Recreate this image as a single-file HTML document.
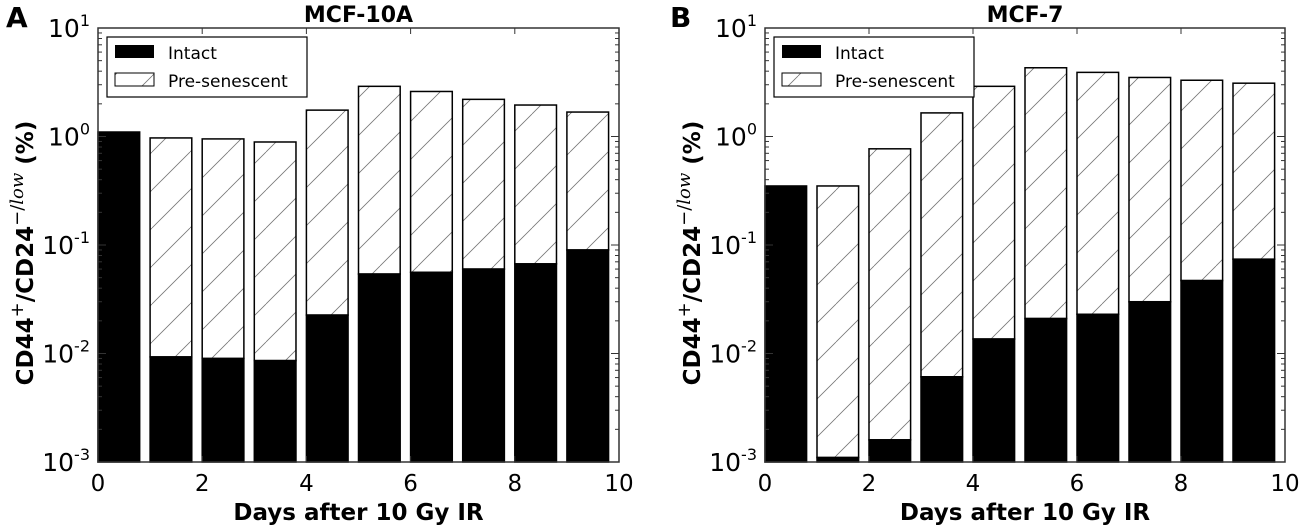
<!DOCTYPE html>
<html><head><meta charset="utf-8"><style>
html,body{margin:0;padding:0;background:#fff;}
svg{display:block;font-family:"DejaVu Sans","Liberation Sans",sans-serif;}
</style></head><body>
<svg id="chart" width="1299" height="529" viewBox="0 0 1299 529">
<defs>
<pattern id="hatch" patternUnits="userSpaceOnUse" width="38" height="38">
<line x1="0" y1="38" x2="38" y2="0" stroke="#777" stroke-width="0.8"/>
<line x1="-38" y1="38" x2="0" y2="0" stroke="#777" stroke-width="0.8"/>
<line x1="38" y1="38" x2="76" y2="0" stroke="#777" stroke-width="0.8"/>
</pattern>
</defs>
</svg>
<script>
const days = [0,1,2,3,4,5,6,7,8,9];
const xTicks = [0,2,4,6,8,10];
const yDecades = [-3,-2,-1,0,1];
const aTotal = [1.1,0.97,0.95,0.89,1.75,2.9,2.6,2.2,1.95,1.68];
const aIntact = [1.1,0.0093,0.009,0.0086,0.0226,0.054,0.056,0.060,0.067,0.09];
const bTotal = [0.35,0.35,0.77,1.65,2.9,4.3,3.9,3.5,3.3,3.1];
const bIntact = [0.35,0.0011,0.0016,0.0061,0.0136,0.021,0.023,0.030,0.047,0.074];

const NS="http://www.w3.org/2000/svg";
const svg=document.getElementById('chart');
function mk(tag,attrs,parent){const e=document.createElementNS(NS,tag);for(const k in attrs)e.setAttribute(k,attrs[k]);(parent||svg).appendChild(e);return e;}

function panel(opt){
  const g=mk('g',{});
  
  
  const L=opt.left,R=opt.right,T=28,B=462;
  const xs=v=>L+(R-L)*v/10;
  const ys=v=>T+(1-Math.log10(v))*(B-T)/4;
  for(let i=0;i<days.length;i++){
    const x0=xs(days[i]),w=xs(days[i]+0.8)-x0;
    const tot=opt.total[i],inn=opt.intact[i];
    if(tot>inn*1.001){
      const r=mk('rect',{x:x0,y:ys(tot),width:w,height:ys(inn)-ys(tot),fill:'url(#hatch)',stroke:'#000','stroke-width':1.5},g);
      
      
    }
    const b=mk('rect',{x:x0,y:ys(inn),width:w,height:B-ys(inn),fill:'#000',stroke:'#000','stroke-width':1.5},g);
    
    
  }
  const f=mk('rect',{x:L,y:T,width:R-L,height:B-T,fill:'none',stroke:'#333','stroke-width':1.5},g);
  
  
  xTicks.forEach(t=>{
    const x=xs(t);
    mk('line',{x1:x,y1:B,x2:x,y2:B-6,stroke:'#333','stroke-width':1},g);
    mk('line',{x1:x,y1:T,x2:x,y2:T+6,stroke:'#333','stroke-width':1},g);
    const tx=mk('text',{x:x,y:B+29,'font-size':23,'text-anchor':'middle',fill:'#000'},g);
    tx.textContent=t;
    
    
  });
  yDecades.forEach(d=>{
    const y=ys(Math.pow(10,d));
    mk('line',{x1:L,y1:y,x2:L+8,y2:y,stroke:'#333','stroke-width':1},g);
    mk('line',{x1:R,y1:y,x2:R-8,y2:y,stroke:'#333','stroke-width':1},g);
    const tx=mk('text',{x:L-8,y:y+9,'font-size':25,'text-anchor':'end',fill:'#000'},g);
    
    
    tx.innerHTML='10<tspan dy="-11" font-size="16">'+d+'</tspan>';
    if(d<1){for(let m=2;m<10;m++){const ym=ys(m*Math.pow(10,d));
      mk('line',{x1:L,y1:ym,x2:L+4,y2:ym,stroke:'#333','stroke-width':1},g);
      mk('line',{x1:R,y1:ym,x2:R-4,y2:ym,stroke:'#333','stroke-width':1},g);}}
  });
  const lg=mk('g',{},g);
  
  
  const lx=L+9;
  mk('rect',{x:lx,y:37,width:200,height:60,fill:'#fff',stroke:'#000','stroke-width':1.2},lg);
  const e1=mk('rect',{x:lx+8,y:45,width:39,height:13,fill:'#000'},lg);
  
  
  const e2=mk('rect',{x:lx+8,y:73,width:39,height:13,fill:'url(#hatch)',stroke:'#000','stroke-width':1},lg);
  
  
  const t1=mk('text',{x:lx+61,y:59,'font-size':17,fill:'#000'},lg);t1.textContent='Intact';
  
  
  const t2=mk('text',{x:lx+61,y:87,'font-size':17,fill:'#000'},lg);t2.textContent='Pre-senescent';
  
  
  const tt=mk('text',{x:(L+R)/2,y:22,'font-size':22,'font-weight':'bold','text-anchor':'middle',fill:'#000'},g);
  tt.textContent=opt.title;
  
  
  const pl=mk('text',{x:opt.letterX,y:27,'font-size':28,'font-weight':'bold',fill:'#000'},g);
  pl.textContent=opt.letter;
  
  
  const xl=mk('text',{x:(L+R)/2,y:520,'font-size':23,'font-weight':'bold','text-anchor':'middle',fill:'#000'},g);
  xl.textContent='Days after 10 Gy IR';
  
  
  const yl=mk('text',{x:0,y:0,'font-size':23,'font-weight':'bold','text-anchor':'middle',fill:'#000',transform:'translate('+(opt.ylabX)+','+((T+B)/2+8)+') rotate(-90)'},g);
  yl.innerHTML='CD44<tspan dy="-10" font-size="18" font-weight="normal">+</tspan><tspan dy="10">/CD24</tspan><tspan dy="-10" font-size="18" font-weight="normal">−/<tspan font-style="italic" font-family="DejaVu Serif, serif">low</tspan></tspan><tspan dy="10">  (%)</tspan>';
  
  
}
panel({key:'mcf10a',left:98,right:619,total:aTotal,intact:aIntact,title:'MCF-10A',letter:'A',letterX:6,ylabX:33});
panel({key:'mcf7',left:765,right:1285,total:bTotal,intact:bIntact,title:'MCF-7',letter:'B',letterX:670,ylabX:700});
</script>
</body></html>
